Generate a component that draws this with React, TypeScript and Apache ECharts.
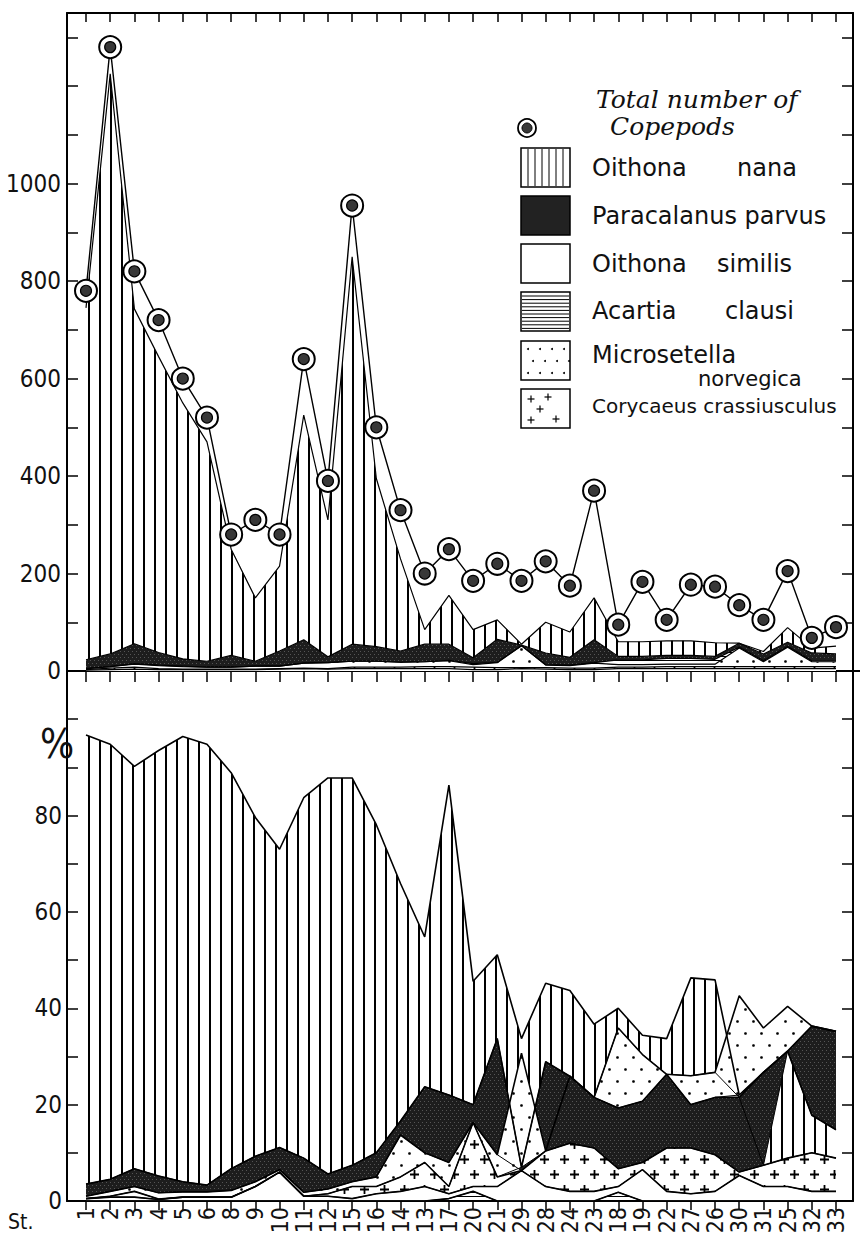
import React, { useEffect, useRef } from 'react';
import * as echarts from 'echarts';

// ---------- categories ----------
const stations = ['1','2','3','4','5','6','8','9','10','11','12','15','16','14','13','17','20','21','29','28','24','23','18','19','22','27','26','30','31','25','32','33'];

// ---------- upper panel: numbers ----------
const totalCopepods = [780,1280,820,720,600,520,280,310,280,640,390,955,500,330,200,250,185,220,185,225,175,370,95,183,105,177,173,135,105,205,68,90];
const similisN  = [2,3,4,3,3,3,3,3,4,5,4,5,5,5,5,5,3,3,5,4,3,3,5,5,5,5,5,5,5,5,5,5];
const coryN     = [1,3,4,2,1,1,1,1,1,1,1,3,3,3,4,4,5,4,2,3,3,3,3,3,4,4,4,4,4,4,4,4];
const microN    = [2,3,6,6,5,4,4,6,5,10,12,12,12,10,10,12,5,10,45,5,5,10,5,5,5,5,5,38,10,40,10,10];
const acartiaN  = [0,0,1,1,1,0,0,0,0,0,0,0,0,0,0,1,2,1,0,1,1,1,10,10,12,12,10,2,2,2,2,2];
const paraN     = [18,26,41,26,15,12,24,10,31,48,12,35,30,23,36,33,12,47,1,24,16,47,7,7,6,6,6,8,14,8,16,14];
const nanaN     = [722,1190,687,607,525,450,218,130,174,461,281,795,345,189,30,100,58,40,2,63,52,86,30,30,30,30,28,0,5,30,10,16];

// ---------- lower panel: percentage bands (lower / upper edge) ----------
const nanaPctLow  = [3.5,4.5,6.7,5.2,4.0,3.3,6.7,9.3,11.1,8.9,5.6,7.4,10.0,16.6,23.7,22,20,33.7,7,28.9,25.9,21.5,35.9,30.4,26.3,26,26.7,21.5,7.4,8.9,10,8.9];
const nanaPctHigh = [96.7,94.8,90.2,93.5,96.4,94.8,88.9,79.6,73.0,83.7,87.8,87.8,78.1,65.9,54.8,86.3,45.6,51.1,33.7,45.2,43.7,36.7,40,34.4,33.7,46.3,45.9,22,26.7,31.1,17.8,14.8];
const paraPctLow  = [1.0,2.0,3.0,1.7,1.9,1.9,2.2,4.0,6.5,1.8,2.5,4.0,5.0,13.7,10.0,8,16.3,9.6,6.3,10.4,12,11,6.7,8,11,11,9.6,6,7.4,31.1,17.8,14.8];
const paraPctHigh = [3.5,4.5,6.7,5.2,4.0,3.3,6.7,9.3,11.1,8.9,5.6,7.4,10.0,16.6,23.7,22,20,33.7,7,28.9,25.9,21.5,19.3,20.7,26.3,20,21.5,21.5,26.7,31.1,36.3,35.2];
const microPctLow  = [0.5,1.0,2.0,0.4,0.8,0.8,0.8,3.0,6.0,1.0,1.5,3.0,3.0,5.0,8.0,3,16.3,5,7,10.4,25.9,21.5,19.3,20.7,26.3,20,21.5,22,26.7,31.1,36.3,35.2];
const microPctHigh = [1.0,2.0,3.0,1.7,1.9,1.9,2.2,4.0,6.5,1.8,2.5,4.0,5.0,13.7,10.0,8,16.3,9.6,30.7,10.4,25.9,21.5,35.9,30.4,26.3,26,26.7,42.6,35.9,40.4,36.3,35.2];
const coryPctLow  = [0.5,0.8,0.8,0.3,0.8,0.8,0.8,3.0,6.0,1.0,1.0,0.5,1.5,2.0,3.0,1.5,3,3,6.3,3,2,2,3,6.5,2,1.5,2,5.3,3,3,2,2];
const coryPctHigh = [0.5,1.0,2.0,0.4,0.8,0.8,0.8,3.0,6.0,1.0,1.5,3.0,3.0,5.0,8.0,3,16.3,5,6.3,10.4,12,11,6.7,8,11,11,9.6,6,7.4,8.9,10,8.9];
const similisPctLow  = [0,0,0,0,0,0,0,0,0,0,0,0,0,0,0,0.5,2,0,0,0,0,0,1.8,0,0,0,0,0,0,0,0,0];
const similisPctHigh = [0.5,0.8,0.8,0.3,0.8,0.8,0.8,3.0,6.0,1.0,1.0,0.5,1.5,2.0,3.0,1.5,3,3,6.3,3,2,2,3,6.5,2,1.5,2,5.3,3,3,2,2];
const acartiaPctLow  = [0,0,0,0,0,0,0,0,0,0,0,0,0,0,0,0,0,0,0,0,0,0,0,0,0,0,0,0,0,0,0,0];
const acartiaPctHigh = [0,0,0,0,0,0,0,0,0,0,0,0,0,0,0,0.5,2,0,0,0,0,0,1.8,0,0,0,0,0,0,0,0,0];

// ---------- axis ticks ----------
const numberTicks = { min: 0, max: 1350, interval: 100 };
const pctTicks = { min: 0, max: 110, interval: 10 };

// ---------- styles ----------
const NARROW = '"DejaVu Sans Condensed","Liberation Sans Narrow",sans-serif';
const HAND = '"DejaVu Sans","Open Sans",sans-serif';

const decalVert = { symbol: 'rect', symbolSize: 1, color: '#000', dashArrayX: [1.1, 8.5], dashArrayY: [20, 0] };
const decalHoriz = { symbol: 'rect', symbolSize: 1, color: '#000', dashArrayX: [20, 0], dashArrayY: [1, 3] };
const decalDots = { symbol: 'circle', symbolSize: 0.9, color: '#000', dashArrayX: [[3, 13], [0, 8, 3, 5]], dashArrayY: [3, 9] };
const decalPlus = { symbol: 'path://M4 0h2v4h4v2h-4v4h-2v-4h-4v-2h4z', symbolSize: 1, color: '#000', dashArrayX: [[9, 11], [0, 10, 9, 1]], dashArrayY: [9, 6] };
const decalDark = { symbol: 'rect', symbolSize: 1, color: '#555', dashArrayX: [[1, 3], [0, 2, 1, 1]], dashArrayY: [1, 2] };

const species = [
  { name: 'Oithona nana', fill: '#fff', decal: decalVert, abs: nanaN, low: nanaPctLow, high: nanaPctHigh },
  { name: 'Paracalanus parvus', fill: '#1d1d1d', decal: decalDark, abs: paraN, low: paraPctLow, high: paraPctHigh },
  { name: 'Microsetella norvegica', fill: '#fff', decal: decalDots, abs: microN, low: microPctLow, high: microPctHigh },
  { name: 'Corycaeus crassiusculus', fill: '#fff', decal: decalPlus, abs: coryN, low: coryPctLow, high: coryPctHigh },
  { name: 'Oithona similis', fill: '#fff', decal: null as any, abs: similisN, low: similisPctLow, high: similisPctHigh },
  { name: 'Acartia clausi', fill: '#fff', decal: decalHoriz, abs: acartiaN, low: acartiaPctLow, high: acartiaPctHigh },
];
// stacking order for the upper panel (bottom -> top)
const absOrder = ['Oithona similis', 'Corycaeus crassiusculus', 'Microsetella norvegica', 'Acartia clausi', 'Paracalanus parvus', 'Oithona nana'];

function buildOption(): any {
  const axisLine = { show: true, onZero: false, lineStyle: { color: '#000', width: 2 } };
  const tickStyle = { color: '#000', width: 1.5 };

  const series: any[] = [];
  absOrder.forEach((nm) => {
    const sp = species.find((s) => s.name === nm)!;
    series.push({
      type: 'line', name: sp.name, xAxisIndex: 2, yAxisIndex: 2, stack: 'abs', data: sp.abs,
      symbol: 'none', silent: true,
      lineStyle: { color: '#000', width: 1.2 },
      itemStyle: { color: '#000', decal: sp.decal ? { ...sp.decal } : undefined },
      areaStyle: { color: sp.fill, opacity: 1 },
    });
  });
  series.push({
    type: 'line', name: 'Total number of Copepods', xAxisIndex: 2, yAxisIndex: 2, data: totalCopepods,
    symbol: 'circle', symbolSize: 22, z: 10, silent: true, showAllSymbol: true,
    lineStyle: { color: '#000', width: 1.4 },
    itemStyle: { color: '#fff', borderColor: '#000', borderWidth: 2 },
  });
  series.push({
    type: 'line', xAxisIndex: 2, yAxisIndex: 2, data: totalCopepods,
    symbol: 'circle', symbolSize: 11, z: 11, silent: true, showAllSymbol: true,
    lineStyle: { opacity: 0 },
    itemStyle: { color: '#383838', borderColor: '#000', borderWidth: 1.2 },
  });
  species.forEach((sp, i) => {
    series.push({
      type: 'line', xAxisIndex: 5, yAxisIndex: 5, stack: 'pct' + i, data: sp.low,
      symbol: 'none', silent: true,
      lineStyle: { color: '#000', width: 1 }, itemStyle: { color: '#000' },
    });
    series.push({
      type: 'line', name: sp.name, xAxisIndex: 5, yAxisIndex: 5, stack: 'pct' + i,
      data: sp.high.map((h, j) => +(h - sp.low[j]).toFixed(2)),
      symbol: 'none', silent: true,
      lineStyle: { color: '#000', width: 1.6 },
      itemStyle: { color: '#000', decal: sp.decal ? { ...sp.decal } : undefined },
      areaStyle: { color: sp.fill, opacity: 1 },
    });
  });

  // legend graphics
  const g: any[] = [];
  const bx = 521, bw = 49, bh = 39;
  const tops = [148, 196, 244, 292, 341, 389];
  const fills = ['#fff', '#222', '#fff', '#fff', '#fff', '#fff'];
  tops.forEach((t, i) => {
    g.push({ type: 'rect', shape: { x: bx, y: t, width: bw, height: bh }, style: { fill: fills[i], stroke: '#000', lineWidth: 1.5 }, z: 100 });
  });
  for (let xx = 528; xx < 568; xx += 7) {
    g.push({ type: 'line', shape: { x1: xx, y1: tops[0] + 1, x2: xx, y2: tops[0] + bh - 1 }, style: { stroke: '#000', lineWidth: 1 }, z: 101 });
  }
  for (let yy = tops[3] + 4; yy < tops[3] + bh - 1; yy += 3.6) {
    g.push({ type: 'line', shape: { x1: bx + 1, y1: yy, x2: bx + bw - 1, y2: yy }, style: { stroke: '#000', lineWidth: 1 }, z: 101 });
  }
  for (let r = 0; r < 3; r++) {
    for (let c = 0; c < 4; c++) {
      g.push({ type: 'circle', shape: { cx: bx + 7 + c * 12 + (r % 2) * 5, cy: tops[4] + 8 + r * 12, r: 1 }, style: { fill: '#000' }, z: 101 });
    }
  }
  [[10, 10], [27, 8], [19, 20], [10, 31], [35, 30]].forEach(([dx, dy]) => {
    const cx = bx + dx, cy = tops[5] + dy;
    g.push({ type: 'line', shape: { x1: cx - 3.5, y1: cy, x2: cx + 3.5, y2: cy }, style: { stroke: '#000', lineWidth: 1.2 }, z: 101 });
    g.push({ type: 'line', shape: { x1: cx, y1: cy - 3.5, x2: cx, y2: cy + 3.5 }, style: { stroke: '#000', lineWidth: 1.2 }, z: 101 });
  });
  // ring symbol + title
  g.push({ type: 'circle', shape: { cx: 527, cy: 128, r: 9 }, style: { fill: '#fff', stroke: '#000', lineWidth: 1.8 }, z: 100 });
  g.push({ type: 'circle', shape: { cx: 527, cy: 128, r: 5 }, style: { fill: '#383838', stroke: '#000', lineWidth: 1 }, z: 101 });
  const titleFont = 'italic 25px "DejaVu Serif","Liberation Serif",serif';
  g.push({ type: 'text', x: 596, y: 99, style: { text: 'Total number of', fill: '#111', font: titleFont, textVerticalAlign: 'middle' }, z: 100 });
  g.push({ type: 'text', x: 610, y: 126, style: { text: 'Copepods', fill: '#111', font: titleFont, textVerticalAlign: 'middle' }, z: 100 });
  const lf = '24px ' + HAND;
  const lt = (text: string, x: number, y: number, font = lf) =>
    g.push({ type: 'text', x, y, style: { text, fill: '#111', font, textVerticalAlign: 'middle' }, z: 100 });
  lt('Oithona', 592, 168); lt('nana', 737, 168);
  lt('Paracalanus parvus', 592, 216);
  lt('Oithona', 592, 264); lt('similis', 717, 264);
  lt('Acartia', 592, 311); lt('clausi', 725, 311);
  lt('Microsetella', 592, 355); lt('norvegica', 698, 379, '21px ' + HAND);
  lt('Corycaeus crassiusculus', 592, 406, '20px ' + HAND);
  g.push({ type: 'text', x: 40, y: 744, style: { text: '%', fill: '#111', font: '40px ' + NARROW, textVerticalAlign: 'middle' }, z: 100 });
  g.push({ type: 'text', x: 8, y: 1222, style: { text: 'St.', fill: '#111', font: '21px ' + NARROW, textVerticalAlign: 'middle' }, z: 100 });
  g.push({ type: 'line', shape: { x1: 853, y1: 671, x2: 860, y2: 671 }, style: { stroke: '#000', lineWidth: 2 }, z: 100 });

  const frameX = { type: 'value', min: 0, max: 1, axisLine, axisTick: { show: false }, axisLabel: { show: false }, splitLine: { show: false } };
  const catHidden = { type: 'category', data: stations, boundaryGap: false, axisLine: { show: false }, axisLabel: { show: false }, splitLine: { show: false } };

  return {
    animation: false,
    backgroundColor: '#fff',
    grid: [
      { left: 67, top: 13, width: 786, height: 658 },
      { left: 86, top: 13, width: 750, height: 658 },
      { left: 67, top: 671, width: 786, height: 530 },
      { left: 86, top: 671, width: 750, height: 530 },
    ],
    xAxis: [
      { ...frameX, gridIndex: 0, position: 'bottom' },
      { ...frameX, gridIndex: 0, position: 'top' },
      { ...catHidden, gridIndex: 1, position: 'bottom', axisTick: { show: true, inside: false, length: 11, interval: 0, lineStyle: tickStyle } },
      { ...catHidden, gridIndex: 1, position: 'top', axisTick: { show: true, inside: true, length: 9, interval: 0, lineStyle: tickStyle } },
      { ...frameX, gridIndex: 2, position: 'bottom' },
      {
        type: 'category', data: stations, boundaryGap: false, gridIndex: 3, position: 'bottom',
        axisLine: { show: false }, splitLine: { show: false },
        axisTick: { show: true, inside: false, length: 9, interval: 0, lineStyle: tickStyle },
        axisLabel: { show: true, interval: 0, rotate: 90, margin: 6, fontSize: 23, fontFamily: NARROW, color: '#111' },
      },
    ],
    yAxis: [
      {
        type: 'value', gridIndex: 0, position: 'left', ...numberTicks, axisLine,
        axisTick: { show: true, inside: true, length: 11, lineStyle: tickStyle },
        axisLabel: { show: true, margin: 6, fontSize: 24, fontFamily: NARROW, color: '#111', formatter: (v: number) => (v % 200 === 0 && v <= 1000 ? String(v) : '') },
        splitLine: { show: false },
      },
      {
        type: 'value', gridIndex: 0, position: 'right', ...numberTicks, axisLine,
        axisTick: { show: true, inside: true, length: 11, lineStyle: tickStyle },
        axisLabel: { show: false }, splitLine: { show: false },
      },
      { type: 'value', gridIndex: 1, ...numberTicks, show: false },
      {
        type: 'value', gridIndex: 2, position: 'left', ...pctTicks, axisLine,
        axisTick: { show: true, inside: true, length: 11, lineStyle: tickStyle },
        axisLabel: { show: true, margin: 5, fontSize: 24, fontFamily: NARROW, color: '#111', formatter: (v: number) => (v % 20 === 0 && v <= 80 ? String(v) : '') },
        splitLine: { show: false },
      },
      {
        type: 'value', gridIndex: 2, position: 'right', ...pctTicks, axisLine,
        axisTick: { show: true, inside: true, length: 11, lineStyle: tickStyle },
        axisLabel: { show: false }, splitLine: { show: false },
      },
      { type: 'value', gridIndex: 3, ...pctTicks, show: false },
    ],
    series,
    graphic: g,
  };
}

export default function App() {
  const ref = useRef<HTMLDivElement>(null);
  useEffect(() => {
    document.body.style.margin = '0';
    const chart = echarts.init(ref.current!, null, { renderer: 'svg' });
    chart.setOption(buildOption());
    return () => chart.dispose();
  }, []);
  return <div ref={ref} style={{ width: 860, height: 1246 }} />;
}
